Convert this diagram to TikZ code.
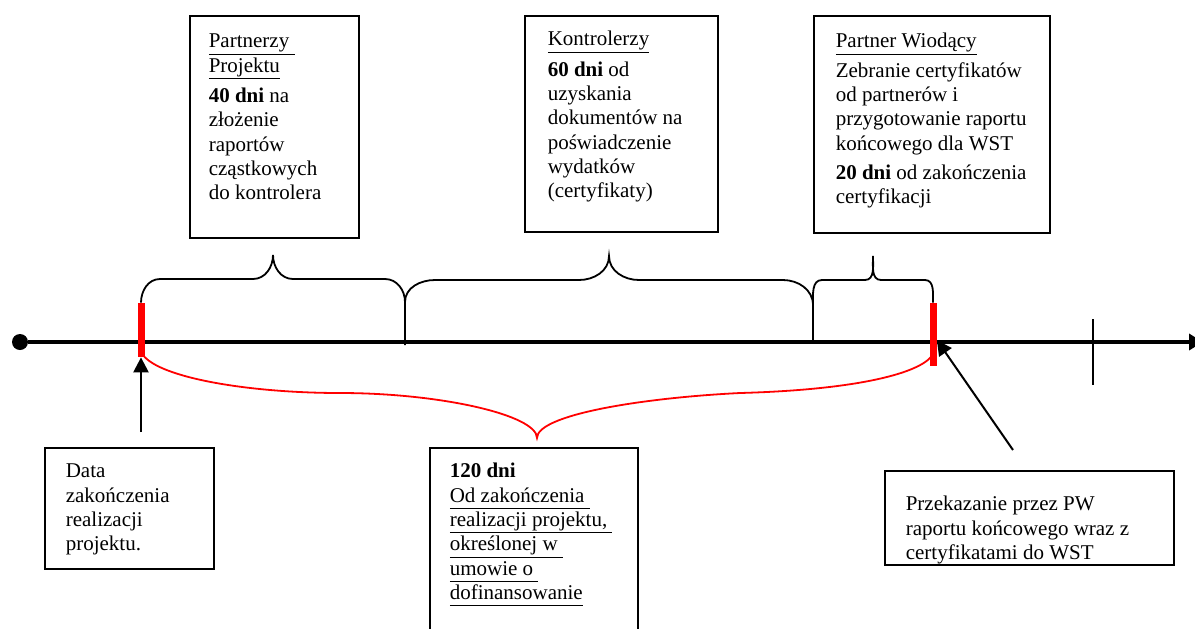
\documentclass[tikz,border=0pt]{standalone}
\usepackage{fontspec}
\setmainfont{Liberation Serif}
\usetikzlibrary{arrows.meta}

\newcommand{\ulined}[1]{\setbox0\hbox{#1}\rlap{\rule[-3.4pt]{\wd0}{0.5pt}}\box0}
\newcommand{\boxtext}[3]{\parbox[t][#2][t]{#1}{\strut#3}}

\begin{document}
\begin{tikzpicture}[x=0.5pt, y=-0.5pt,
    tbox/.style={draw, rectangle, line width=0.8pt, anchor=north west, inner xsep=10pt, inner ysep=7pt,
                 font=\fontsize{10.5}{12.15}\selectfont},
    redbar/.style={rectangle, fill=red, inner sep=0pt, minimum width=3.5pt},
    brace/.style={line width=0.9pt},
    redbrace/.style={red, line width=0.9pt},
    pointer/.style={line width=1.2pt, -{Triangle[length=7.5pt,width=7.5pt]}}]
    \useasboundingbox (0,0) rectangle (1195,628);

    % Boxes
    \node[tbox, inner xsep=9.5pt, inner ysep=7.5pt] (partnerzy) at (189,15) {\boxtext{65.5pt}{96pt}{\ulined{Partnerzy\ }\\ \ulined{Projektu}\\[3pt] \textbf{40 dni} na\\ złożenie\\ raportów\\ cząstkowych\\ do kontrolera}};
    \node[tbox, inner xsep=11.5pt, inner ysep=6.5pt] (kontrolerzy) at (524,15) {\boxtext{73.5pt}{95pt}{\ulined{Kontrolerzy}\\[3pt] \textbf{60 dni} od\\ uzyskania\\ dokumentów na\\ poświadczenie\\ wydatków\\ (certyfikaty)}};
    \node[tbox, inner xsep=11pt, inner ysep=7.5pt] (wiodacy) at (813,15) {\boxtext{96pt}{93.5pt}{\ulined{Partner Wiodący}\\[2.5pt] Zebranie certyfikatów\\ od partnerów i\\ przygotowanie~raportu\\ końcowego dla WST\\[2.5pt] \textbf{20 dni} od zakończenia\\ certyfikacji}};
    \node[tbox, inner xsep=10.5pt, inner ysep=6.5pt] (data) at (44,447) {\boxtext{63.5pt}{47.5pt}{Data\\ zakończenia\\ realizacji\\ projektu.}};
    \node[tbox, inner xsep=10pt, inner ysep=6.5pt] (dni) at (429,447) {\boxtext{84pt}{79.5pt}{\textbf{120 dni}\\ \ulined{Od zakończenia\ }\\ \ulined{realizacji projektu,\ }\\ \ulined{określonej w\ }\\ \ulined{umowie o\ }\\ \ulined{dofinansowanie}}};
    \node[tbox, inner xsep=10.5pt, inner ysep=11.5pt] (raport) at (884,470) {\boxtext{123.5pt}{24pt}{Przekazanie przez PW\\ raportu końcowego wraz z\\ certyfikatami do WST}};

    % Time axis
    \node[circle, fill, inner sep=0pt, minimum size=8pt] (start) at (20,342) {};
    \coordinate (axisend) at (1203,342);
    \draw[line width=2pt, -{Triangle[length=7pt,width=8pt]}] (start) -- (axisend);
    \coordinate (ticktop) at (1093,319);
    \coordinate (tickbot) at (1093,385);
    \draw[line width=0.8pt] (ticktop) -- (tickbot);

    \node[redbar, minimum height=27pt] (startbar) at (141,330) {};
    \node[redbar, minimum height=31.5pt] (endbar) at (933,334.5) {};

    % Braces
    \draw[brace] (startbar.north) to[out=90,in=180] (160,279) -- (253,279) to[out=0,in=-90] (273,255)
        to[out=-90,in=180] (293,279) -- (385,279) to[out=0,in=90] (405,302) -- (405,345);
    \draw[brace] (405,302) to[out=90,in=180] (435,280) -- (579,280) to[out=0,in=-90] (609,256)
        to[out=-90,in=180] (639,280) -- (783,280) to[out=0,in=90] (813,305) -- (813,343);
    \draw[brace] (813,305) to[out=90,in=180] (822,280) -- (865,280) to[out=0,in=-90] (873,256)
        to[out=-90,in=180] (881,280) -- (925,280) to[out=0,in=90] (endbar.north);
    \draw[redbrace] (143,355) .. controls (160,378) and (250,393) .. (340,393)
        .. controls (440,393) and (537,415) .. (537,438)
        .. controls (537,415) and (640,398) .. (740,393)
        .. controls (850,390) and (915,375) .. (931,357);

    % Arrows
    \coordinate (dataarrow) at (141,432);
    \coordinate (raportarrow) at (1013,450);
    \draw[pointer] (dataarrow) -- (startbar);
    \draw[pointer, line width=1pt] (raportarrow) -- (endbar);
\end{tikzpicture}
\end{document}
